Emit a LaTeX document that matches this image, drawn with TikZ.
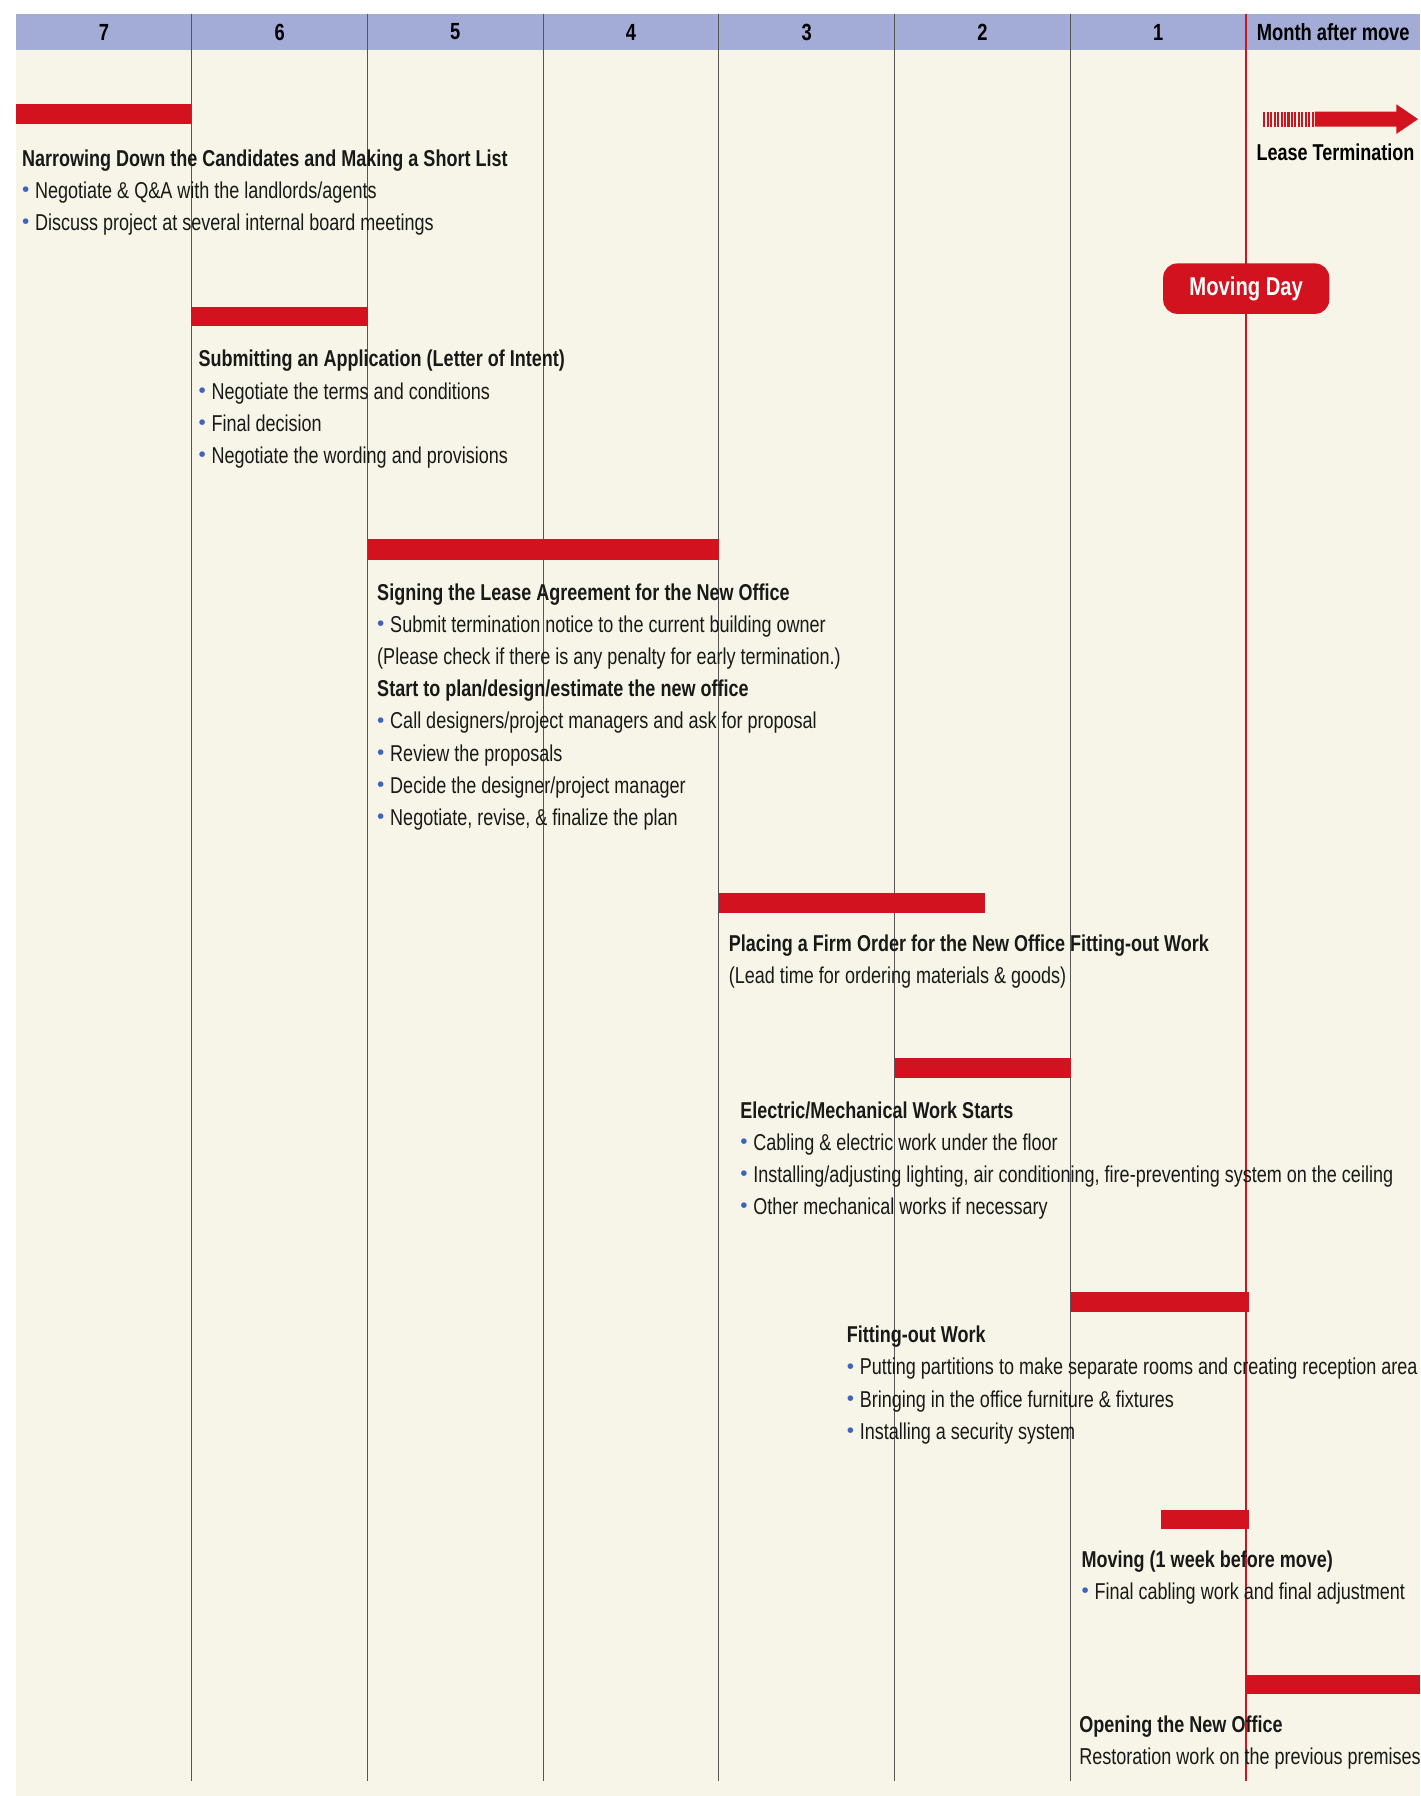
\documentclass[tikz,border=0pt]{standalone}
\usepackage{fontspec}
\setmainfont[FakeStretch=0.785]{Liberation Sans}
\usetikzlibrary{positioning}
\definecolor{hdrblue}{RGB}{163,172,214}
\definecolor{paper}{RGB}{247,245,231}
\definecolor{barred}{RGB}{210,18,30}
\definecolor{dotblue}{RGB}{60,100,190}
\definecolor{inkgray}{RGB}{85,85,85}
\newcommand{\bul}{\textcolor{dotblue}{\raisebox{0.08em}{\scalebox{1.15}[0.9]{•}}}\hspace{0.25em}}

\begin{document}
\begin{tikzpicture}[x=0.2mm, y=-0.2mm,
    hdr/.style={font=\bfseries\fontsize{11.6}{14}\selectfont},
    task/.style={anchor=north west, inner sep=0pt, align=left, text=black!90,
      font=\fontsize{11.4}{15.94}\selectfont},
    lbl/.style={font=\bfseries\fontsize{11.4}{14}\selectfont, inner sep=0pt},
    bar/.style={fill=barred},
    colline/.style={inkgray, line width=0.5pt},
    moveday/.style={fill=barred, rounded corners=7pt, text=white,
      font=\bfseries\fontsize{12.8}{16}\selectfont, minimum width=29mm, minimum height=8.8mm}
  ]
    \useasboundingbox (0,0) rectangle (1240,1568);
    \fill[white] (0,0) rectangle (1240,1568);
    \fill[paper] (14,44) rectangle (1240,1568);
    \fill[hdrblue] (14,12) rectangle (1240,44);
    % month header
    \foreach \m [count=\i from 0] in {7,6,5,4,3,2,1}
      \node[hdr] (h\m) at ({14+153.4*(\i+0.5)},28) {\m};
    \node[hdr] (h0) at (1164,28) {Month after move};
    \foreach \i in {1,...,6}
      \draw[colline] ({14+153.4*\i},12) -- ({14+153.4*\i},1555);
    \draw[barred, line width=1pt] (1088,12) -- (1088,1555);
    % 7 months
    \fill[bar] (14,91) rectangle (167,108);
    \node[task] (t1) at (19,130.5) {\textbf{Narrowing Down the Candidates and Making a Short List}\\
      \bul Negotiate \& Q\&A with the landlords/agents\\
      \bul Discuss project at several internal board meetings};
    % 6 months
    \fill[bar] (167,268) rectangle (321,285);
    \node[task] (t2) at (173,305.5) {\textbf{Submitting an Application (Letter of Intent)}\\
      \bul Negotiate the terms and conditions\\
      \bul Final decision\\
      \bul Negotiate the wording and provisions};
    % 5-4 months
    \fill[bar] (321,471) rectangle (628,489);
    \node[task] (t3) at (329,509.5) {\textbf{Signing the Lease Agreement for the New Office}\\
      \bul Submit termination notice to the current building owner\\
      (Please check if there is any penalty for early termination.)\\
      \textbf{Start to plan/design/estimate the new office}\\
      \bul Call designers/project managers and ask for proposal\\
      \bul Review the proposals\\
      \bul Decide the designer/project manager\\
      \bul Negotiate, revise, \& finalize the plan};
    % 3 months
    \fill[bar] (628,780) rectangle (860,797);
    \node[task] (t4) at (636,815.5) {\textbf{Placing a Firm Order for the New Office Fitting-out Work}\\
      (Lead time for ordering materials \& goods)};
    % 2 months
    \fill[bar] (781,924) rectangle (935,941);
    \node[task] (t5) at (646,961.5) {\textbf{Electric/Mechanical Work Starts}\\
      \bul Cabling \& electric work under the floor\\
      \bul Installing/adjusting lighting, air conditioning, fire-preventing system on the ceiling\\
      \bul Other mechanical works if necessary};
    % 1 month
    \fill[bar] (935,1128) rectangle (1090,1145);
    \node[task] (t6) at (739,1157.5) {\textbf{Fitting-out Work}\\
      \bul Putting partitions to make separate rooms and creating reception area\\
      \bul Bringing in the office furniture \& fixtures\\
      \bul Installing a security system};
    % 1 week
    \fill[bar] (1014,1318) rectangle (1090,1335);
    \node[task] (t7) at (944,1353.5) {\textbf{Moving (1 week before move)}\\
      \bul Final cabling work and final adjustment};
    % after move
    \fill[bar] (1088,1462) rectangle (1240,1479);
    \node[task] (t8) at (942,1497.5) {\textbf{Opening the New Office}\\
      Restoration work on the previous premises};
    % lease termination
    \foreach \s in {1103,1106,...,1145}
      \fill[barred] (\s,97.5) rectangle ++(1.8,13);
    \fill[barred] (1148,97.5) -- (1219,97.5) -- (1219,91) -- (1238,104)
      -- (1219,117) -- (1219,110.5) -- (1148,110.5) -- cycle;
    \coordinate (lt) at (1166,117);
    \node[lbl, below=1.6mm of lt] (ltx) {Lease Termination};
    % moving day
    \node[moveday] (md) at (1088,252) {Moving Day};
\end{tikzpicture}
\end{document}
